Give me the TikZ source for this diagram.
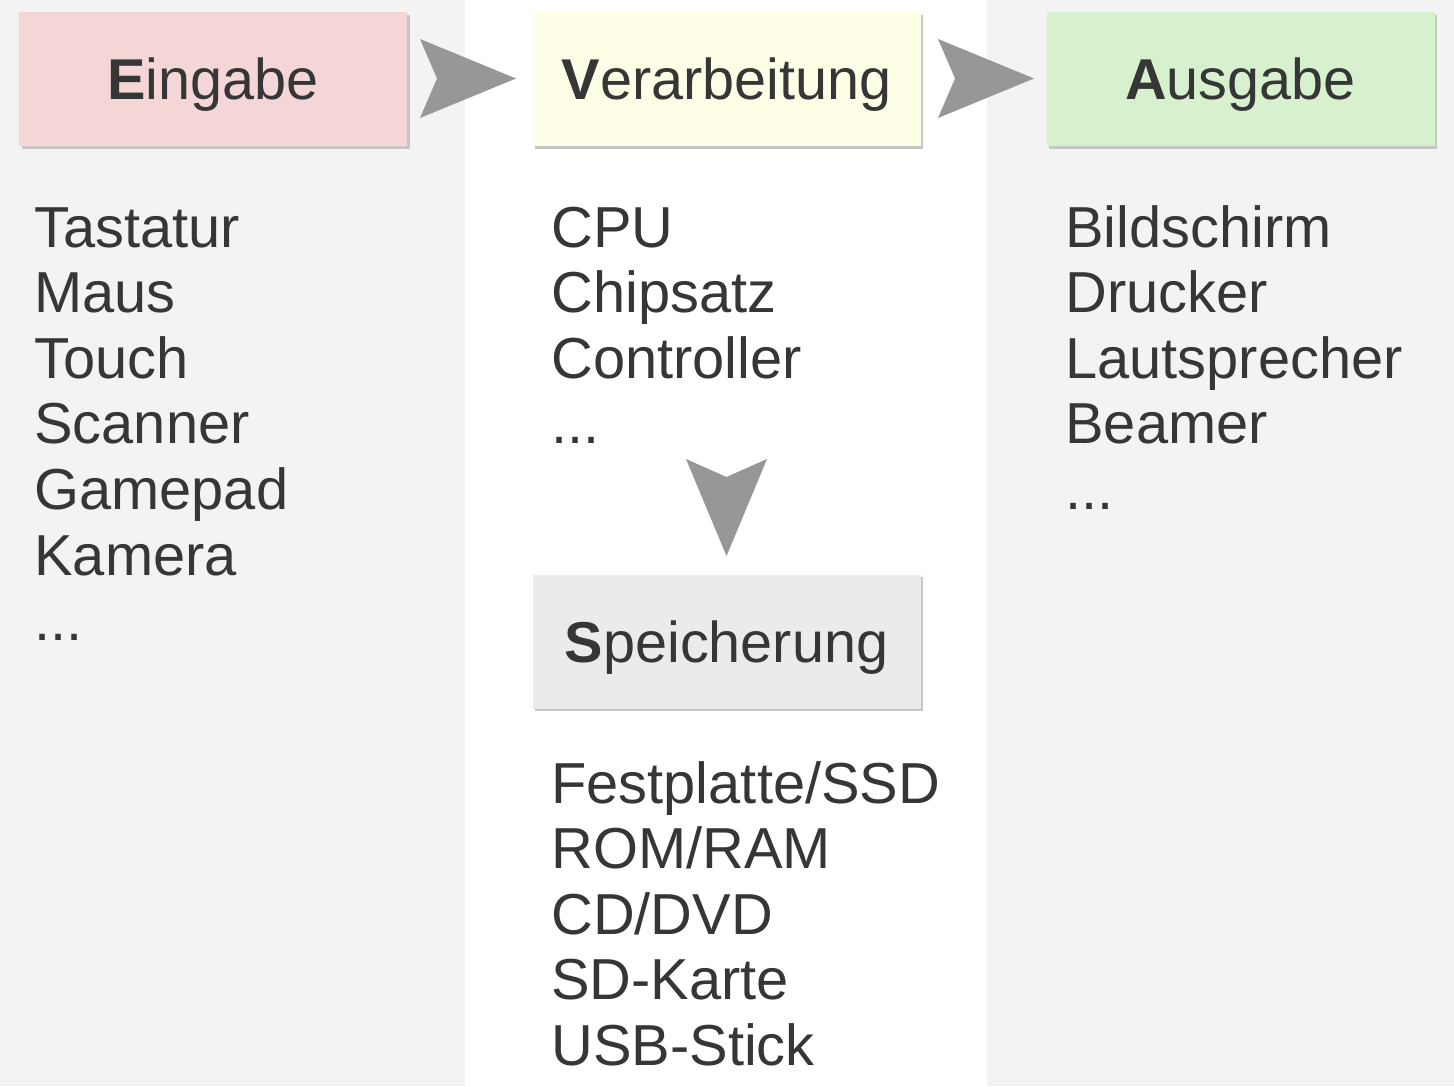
\documentclass[tikz,border=0pt]{standalone}
\usepackage{fontspec}
\setmainfont{Liberation Sans}
\usetikzlibrary{shadows}
\definecolor{bgc}{HTML}{F3F3F3}
\definecolor{txt}{HTML}{363636}
\definecolor{pinkc}{HTML}{F4D6D6}
\definecolor{yellc}{HTML}{FEFEE6}
\definecolor{greenc}{HTML}{D7F1CF}
\definecolor{storc}{HTML}{EBEBEB}
\definecolor{arrc}{HTML}{979797}
\definecolor{shadc}{HTML}{C6C6C6}
\newcommand\mydots{...}
\begin{document}
\begin{tikzpicture}[x=0.5pt,y=-0.5pt,
  hdr/.style={minimum width=194pt, minimum height=67pt, inner sep=0pt,
    text height=20.6pt, text depth=0pt, font=\fontsize{28.8}{34}\selectfont, text=txt,
    drop shadow={shadow xshift=1.3pt, shadow yshift=-1.3pt, fill=shadc, opacity=1}},
  item/.style={anchor=base west, inner sep=0pt, font=\fontsize{28.9}{34}\selectfont, text=txt},
  arr/.style={fill=arrc}]
\useasboundingbox (0,0) rectangle (1454,1086);
\fill[bgc] (0,0) rectangle (1454,1086);
\fill[white] (465,0) rectangle (987,1086);
% header boxes
\node[hdr, fill=pinkc]  (ein) at (213,79)  {\textbf{E}ingabe};
\node[hdr, fill=yellc]  (ver) at (726.5,79) {\textbf{V}erarbeitung};
\node[hdr, fill=greenc] (aus) at (1240.5,79) {\textbf{A}usgabe};
\node[hdr, fill=storc]  (spe) at (726.5,641.5) {\textbf{S}peicherung};
% arrows
\coordinate (a1) at (420,78.5);
\coordinate (a2) at (938,78.5);
\coordinate (a3) at (726.5,459);
\fill[arr] (a1) ++(0,-39.5) -- ++(96,39.5) -- ++(-96,39.5) -- ++(17,-39.5) -- cycle;
\fill[arr] (a2) ++(0,-39.5) -- ++(96,39.5) -- ++(-96,39.5) -- ++(17,-39.5) -- cycle;
\fill[arr] (a3) ++(-40.5,0) -- ++(40.5,18) -- ++(40.5,-18) -- ++(-40.5,97) -- cycle;
% lists
\foreach \t [count=\i] in {Tastatur,Maus,Touch,Scanner,Gamepad,Kamera,\mydots}
  \node[item] (in\i) at (34,{247+65.6*(\i-1)}) {\t};
\foreach \t [count=\i] in {CPU,Chipsatz,Controller,\mydots}
  \node[item] (pr\i) at (551,{247+65.6*(\i-1)}) {\t};
\foreach \t [count=\i] in {Bildschirm,Drucker,Lautsprecher,Beamer,\mydots}
  \node[item] (out\i) at (1065,{247+65.6*(\i-1)}) {\t};
\foreach \t [count=\i] in {Festplatte/SSD,ROM/RAM,CD/DVD,SD-Karte,USB-Stick}
  \node[item] (st\i) at (551,{803+65.6*(\i-1)}) {\t};
\end{tikzpicture}
\end{document}
